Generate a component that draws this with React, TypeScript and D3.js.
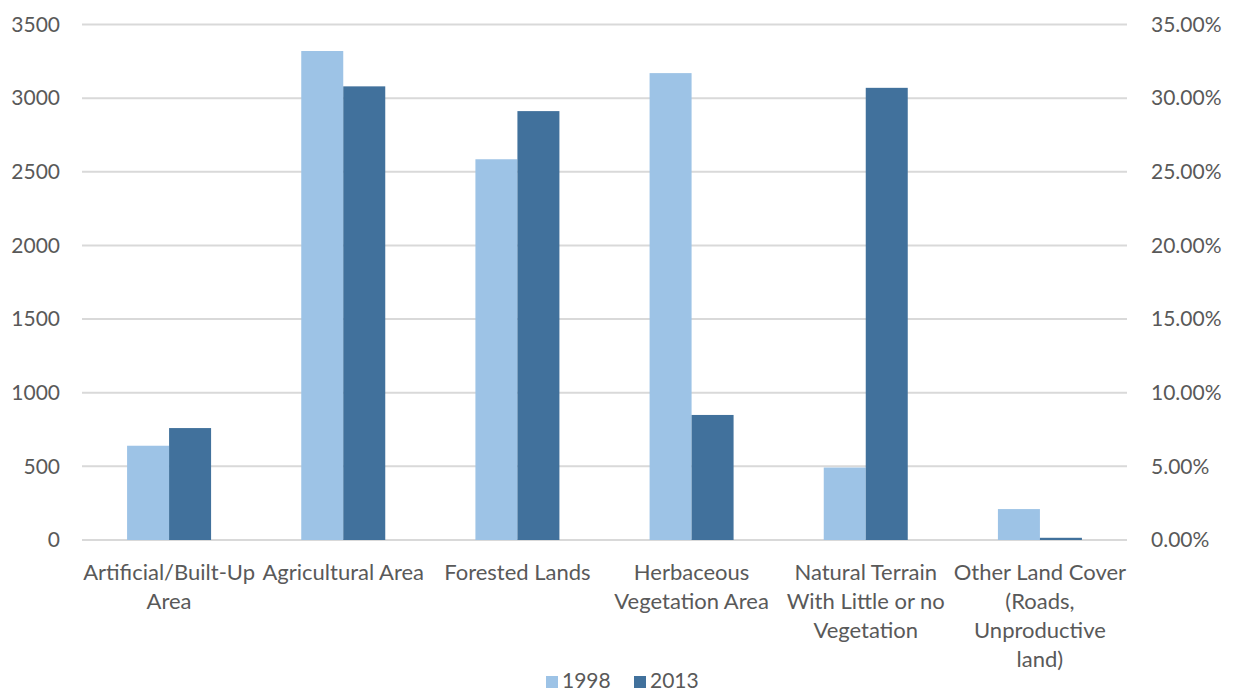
import React from "react";
import * as d3 from "d3";

const categories: string[][] = [
  ["Artificial/Built-Up", "Area"],
  ["Agricultural Area"],
  ["Forested Lands"],
  ["Herbaceous", "Vegetation Area"],
  ["Natural Terrain", "With Little or no", "Vegetation"],
  ["Other Land Cover", "(Roads,", "Unproductive", "land)"],
];
const series1998 = [640, 3320, 2585, 3170, 492, 210];
const series2013 = [760, 3080, 2912, 849, 3070, 15];
const seriesNames = ["1998", "2013"];
const leftTicks = [0, 500, 1000, 1500, 2000, 2500, 3000, 3500];
const rightTicks = [0, 0.05, 0.1, 0.15, 0.2, 0.25, 0.3, 0.35];

const W = 1235;
const H = 691;
const colors = ["#9dc3e6", "#41719c"];
const FONT = "Lato, 'Open Sans', sans-serif";
const TEXT = "#595959";

export default function App() {
  const x0 = d3
    .scaleBand<number>()
    .domain(categories.map((_, i) => i))
    .range([82, 1127]);
  const groupW = 84;
  const x1 = d3
    .scaleBand<number>()
    .domain([0, 1])
    .range([0, groupW]);
  const y = d3.scaleLinear().domain([0, 3500]).range([540, 24.5]);
  const yR = d3.scaleLinear().domain([0, 0.35]).range([540, 24.5]);
  const data = [series1998, series2013];

  return (
    <svg
      width={W}
      height={H}
      style={{ position: "absolute", left: 0, top: 0, background: "#fff" }}
      fontFamily={FONT}
    >
      {leftTicks.map((t) => (
        <line
          key={"g" + t}
          x1={82}
          x2={1127}
          y1={y(t)}
          y2={y(t)}
          stroke="#d9d9d9"
          strokeWidth={2}
        />
      ))}
      {leftTicks.map((t) => (
        <text
          key={"l" + t}
          x={60}
          y={y(t)}
          dy="0.35em"
          textAnchor="end"
          fontSize={21}
          fill={TEXT}
        >
          {t}
        </text>
      ))}
      {rightTicks.map((t) => (
        <text
          key={"r" + t}
          x={1151}
          y={yR(t)}
          dy="0.35em"
          textAnchor="start"
          fontSize={21}
          fill={TEXT}
        >
          {(t * 100).toFixed(2) + "%"}
        </text>
      ))}
      {categories.map((_, i) => {
        const cx = (x0(i) as number) + x0.bandwidth() / 2;
        return data.map((s, j) => (
          <rect
            key={`b${i}-${j}`}
            x={cx - groupW / 2 + (x1(j) as number)}
            width={x1.bandwidth()}
            y={y(s[i])}
            height={y(0) - y(s[i])}
            fill={colors[j]}
          />
        ));
      })}
      {categories.map((lines, i) => {
        const cx = (x0(i) as number) + x0.bandwidth() / 2;
        return (
          <text
            key={"c" + i}
            x={cx}
            y={580}
            textAnchor="middle"
            fontSize={22}
            fill={TEXT}
          >
            {lines.map((ln, k) => (
              <tspan key={k} x={cx} dy={k === 0 ? 0 : 29}>
                {ln}
              </tspan>
            ))}
          </text>
        );
      })}
      {seriesNames.map((n, j) => {
        const lx = [546, 634][j];
        return (
          <g key={"lg" + j}>
            <rect x={lx} y={676} width={12} height={12} fill={colors[j]} />
            <text x={lx + 16} y={688} fontSize={21} fill={TEXT}>
              {n}
            </text>
          </g>
        );
      })}
    </svg>
  );
}
